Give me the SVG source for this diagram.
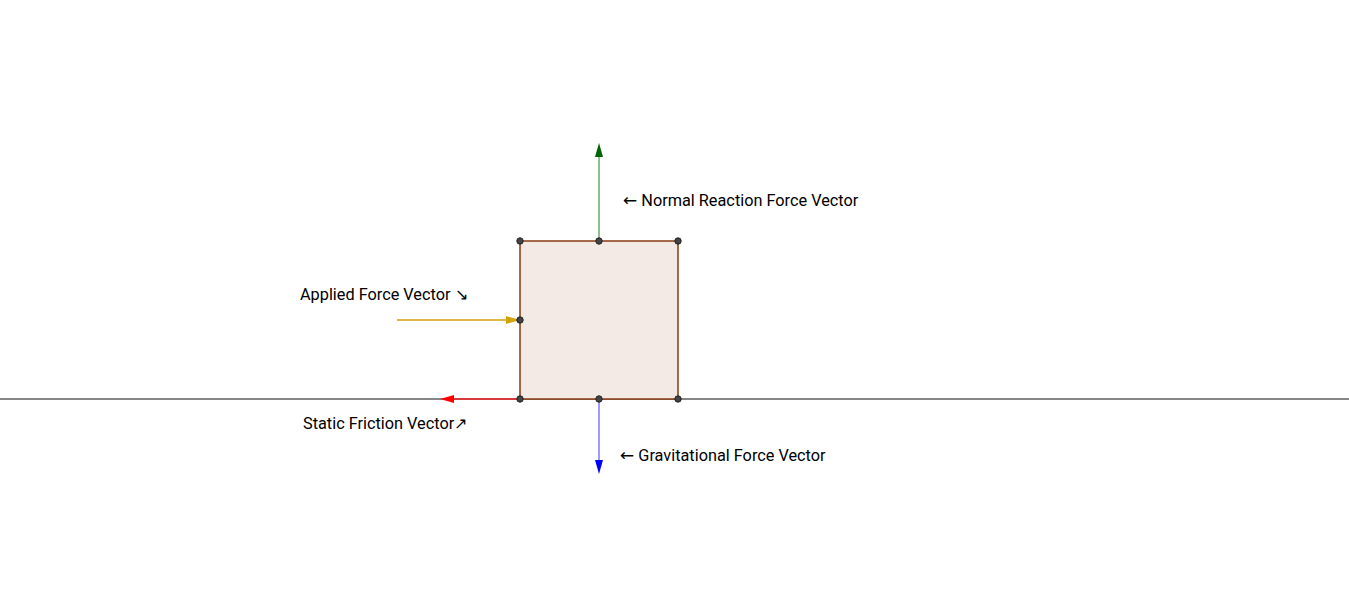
<svg xmlns="http://www.w3.org/2000/svg" width="1349" height="597" viewBox="0 0 1349 597">
<style>
text{font-family:Roboto,"Liberation Sans",sans-serif;font-size:16.3px;fill:#000}
.ar{font-family:"DejaVu Sans",sans-serif;font-size:17px}
.pt{fill:#444;stroke:#222;stroke-width:1}
</style>
<rect width="1349" height="597" fill="#fff"/>
<line x1="0" y1="399" x2="1349" y2="399" stroke="#111" stroke-width="1.2"/>
<g id="block">
<rect x="520" y="241" width="158" height="158" fill="#f3eae5" stroke="#8b3a12" stroke-width="1.5"/>
</g>
<g id="connectors">
<line x1="599" y1="241" x2="599" y2="156" stroke="#6aaa6a" stroke-width="1.5"/>
<polygon points="599,143 595,157 603,157" fill="#006400"/>
<line x1="397" y1="320" x2="507" y2="320" stroke="#d4a20a" stroke-width="1.5"/>
<polygon points="520,320 506,316 506,324" fill="#d4a20a"/>
<line x1="520" y1="399" x2="453" y2="399" stroke="#f02020" stroke-width="1.5"/>
<polygon points="440,399 454,395 454,403" fill="#ff0000"/>
<line x1="599" y1="399" x2="599" y2="461" stroke="#7a7aff" stroke-width="1.5"/>
<polygon points="599,474 595,460 603,460" fill="#0000ff"/>
</g>
<g id="points">
<circle class="pt" cx="520" cy="241" r="3.2"/>
<circle class="pt" cx="599" cy="241" r="3.2"/>
<circle class="pt" cx="678" cy="241" r="3.2"/>
<circle class="pt" cx="520" cy="320" r="3.2"/>
<circle class="pt" cx="520" cy="399" r="3.2"/>
<circle class="pt" cx="599" cy="399" r="3.2"/>
<circle class="pt" cx="678" cy="399" r="3.2"/>
</g>
<g id="labels">
<text x="623" y="206"><tspan class="ar">←</tspan> Normal Reaction Force Vector</text>
<text x="300" y="300">Applied Force Vector ↘</text>
<text x="303" y="429">Static Friction Vector↗</text>
<text x="620" y="461"><tspan class="ar">←</tspan> Gravitational Force Vector</text>
</g>
</svg>
